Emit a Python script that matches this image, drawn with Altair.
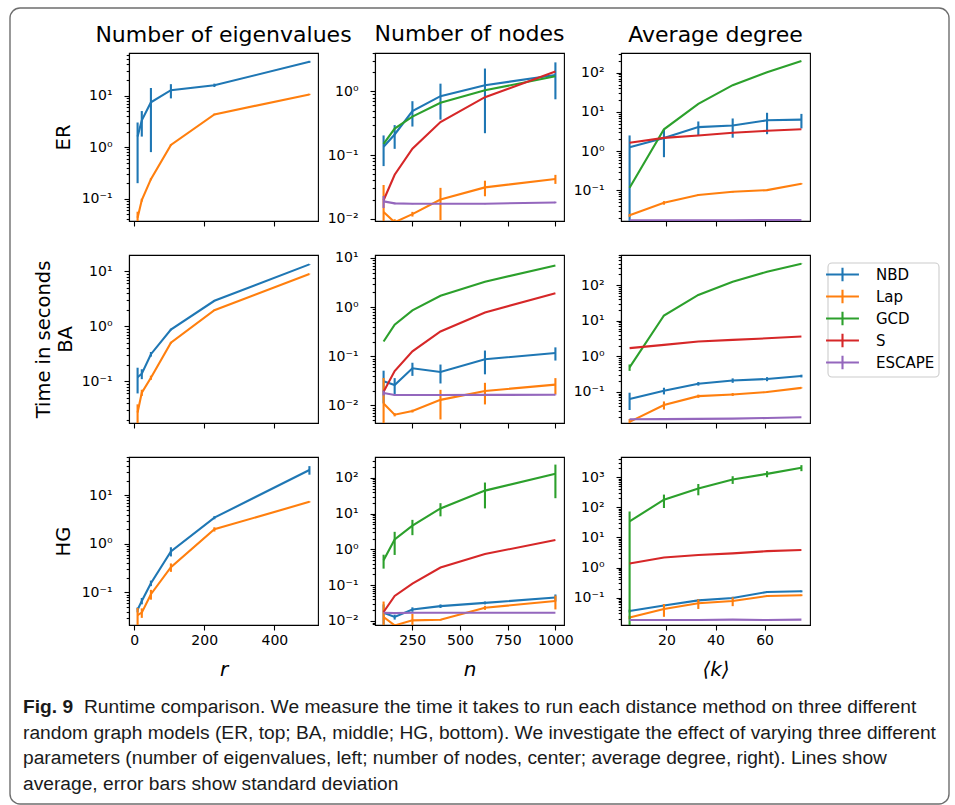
import altair as alt
import pandas as pd

METHODS = ["NBD", "Lap", "GCD", "S", "ESCAPE"]
PALETTE = ["#1f77b4", "#ff7f0e", "#2ca02c", "#d62728", "#9467bd"]

R_VALUES = [10, 22, 48, 105, 229, 500]
N_VALUES = [100, 158, 251, 398, 631, 1000]
K_VALUES = [5, 19, 33, 47, 61, 75]
X_VALUES = [R_VALUES, N_VALUES, K_VALUES]

COLUMN_TITLES = ["Number of eigenvalues", "Number of nodes", "Average degree"]
X_TITLES = ["r", "n", "⟨k⟩"]
X_TICKS = [[0, 200, 400], [250, 500, 750, 1000], [20, 40, 60]]
X_DOMAINS = [[-14.5, 524.5], [55, 1045], [1.5, 78.5]]
ROW_TITLES = ["ER", ["Time in seconds", "BA"], "HG"]

# mean runtime (seconds) and standard deviation, one dict per panel
ER_R_MEAN = {"NBD": [1.6, 3.3, 7.4, 12.7, 15.8, 45.0],
             "Lap": [0.043, 0.094, 0.24, 1.1, 4.3, 10.5]}
ER_R_STD = {"NBD": [1.4, 1.7, 6.6, 3.9, 1.2, 2.0],
            "Lap": [0.013, 0.006, 0.012, 0.04, 0.15, 0.3]}

ER_N_MEAN = {"NBD": [0.135, 0.21, 0.49, 0.84, 1.25, 1.8],
             "Lap": [0.0127, 0.0088, 0.0118, 0.02, 0.031, 0.042],
             "GCD": [0.15, 0.26, 0.40, 0.66, 1.04, 1.72],
             "S": [0.0195, 0.049, 0.126, 0.33, 0.81, 2.05],
             "ESCAPE": [0.0187, 0.0174, 0.0172, 0.0172, 0.0172, 0.018]}
ER_N_STD = {"NBD": [0.068, 0.085, 0.21, 0.48, 1.03, 1.05],
            "Lap": [0.021, 0.001, 0.001, 0.0105, 0.0085, 0.0068],
            "ESCAPE": [0.004, 0.0005, 0.0003, 0.0003, 0.0003, 0.0005]}

ER_K_MEAN = {"NBD": [1.26, 2.15, 4.1, 4.5, 6.1, 6.35],
             "Lap": [0.023, 0.048, 0.076, 0.092, 0.101, 0.147],
             "GCD": [0.116, 3.6, 16, 48, 103, 198],
             "S": [1.63, 2.18, 2.5, 2.93, 3.3, 3.6],
             "ESCAPE": [0.0172, 0.0172, 0.0173, 0.0173, 0.0174, 0.0175]}
ER_K_STD = {"NBD": [1.25, 1.45, 1.6, 2.3, 3.4, 2.55],
            "Lap": [0.002, 0.005, 0.004, 0.004, 0.003, 0.005]}

BA_R_MEAN = {"NBD": [0.118, 0.137, 0.31, 0.87, 2.9, 13.3],
             "Lap": [0.027, 0.062, 0.116, 0.50, 1.95, 8.9]}
BA_R_STD = {"NBD": [0.058, 0.028, 0.03, 0.03, 0.05, 0.2],
            "Lap": [0.011, 0.008, 0.01, 0.02, 0.05, 0.1]}

BA_N_MEAN = {"NBD": [0.031, 0.026, 0.057, 0.048, 0.087, 0.117],
             "Lap": [0.011, 0.0065, 0.0077, 0.013, 0.0197, 0.0265],
             "GCD": [0.20, 0.44, 0.86, 1.7, 3.3, 7.0],
             "S": [0.019, 0.05, 0.126, 0.32, 0.78, 1.92],
             "ESCAPE": [0.018, 0.0163, 0.0163, 0.0163, 0.0164, 0.0165]}
BA_N_STD = {"NBD": [0.02, 0.01, 0.017, 0.02, 0.044, 0.035],
            "Lap": [0.025, 0.0005, 0.0005, 0.0078, 0.0092, 0.0095],
            "ESCAPE": [0.002, 0.0003, 0.0003, 0.0003, 0.0003, 0.0003]}

BA_K_MEAN = {"NBD": [0.063, 0.108, 0.17, 0.21, 0.23, 0.28],
             "Lap": [0.0144, 0.043, 0.076, 0.085, 0.099, 0.13],
             "GCD": [0.49, 14, 53, 124, 236, 400],
             "S": [1.7, 2.1, 2.6, 2.9, 3.2, 3.6],
             "ESCAPE": [0.017, 0.0172, 0.0175, 0.0178, 0.0185, 0.0195]}
BA_K_STD = {"NBD": [0.032, 0.023, 0.02, 0.03, 0.03, 0.025],
            "Lap": [0.003, 0.011, 0.008, 0.008, 0.005, 0.004],
            "GCD": [0.1, 0.5, 1, 2, 3, 5]}

HG_R_MEAN = {"NBD": [0.044, 0.067, 0.155, 0.70, 3.45, 33],
             "Lap": [0.034, 0.0385, 0.092, 0.33, 1.99, 7.3]}
HG_R_STD = {"NBD": [0.005, 0.01, 0.02, 0.15, 0.25, 6.6],
            "Lap": [0.014, 0.0085, 0.021, 0.065, 0.2, 0.2]}

HG_N_MEAN = {"NBD": [0.017, 0.0129, 0.021, 0.026, 0.032, 0.045],
             "Lap": [0.0129, 0.0075, 0.0104, 0.0108, 0.0234, 0.036],
             "GCD": [0.5, 1.9, 4.6, 14, 44, 131],
             "S": [0.0178, 0.05, 0.111, 0.31, 0.74, 1.84],
             "ESCAPE": [0.017, 0.0165, 0.017, 0.017, 0.017, 0.017]}
HG_N_STD = {"NBD": [0.012, 0.002, 0.003, 0.003, 0.003, 0.01],
            "Lap": [0.022, 0.0005, 0.0054, 0.0005, 0.003, 0.015],
            "GCD": [0.21, 1.2, 2.1, 5.6, 30, 104]}

HG_K_MEAN = {"NBD": [0.036, 0.055, 0.081, 0.097, 0.154, 0.162],
             "Lap": [0.022, 0.042, 0.065, 0.077, 0.113, 0.12],
             "GCD": [34, 180, 424, 840, 1295, 2055],
             "S": [1.36, 2.16, 2.6, 2.94, 3.5, 3.8],
             "ESCAPE": [0.018, 0.018, 0.018, 0.0185, 0.018, 0.0185]}
HG_K_STD = {"NBD": [0.004, 0.006, 0.008, 0.01, 0.01, 0.012],
            "Lap": [0.003, 0.019, 0.023, 0.025, 0.008, 0.008],
            "GCD": [39, 85, 173, 240, 295, 465]}

# visible y range of each panel (log axes)
Y_DOMAINS = [[[0.037, 66.7], [0.0092, 4.0], [0.0165, 318]],
             [[0.0174, 19.7], [0.0044, 11.5], [0.0134, 700]],
             [[0.0214, 61], [0.0077, 383], [0.0123, 4700]]]

PANEL_DATA = [[(ER_R_MEAN, ER_R_STD), (ER_N_MEAN, ER_N_STD), (ER_K_MEAN, ER_K_STD)],
              [(BA_R_MEAN, BA_R_STD), (BA_N_MEAN, BA_N_STD), (BA_K_MEAN, BA_K_STD)],
              [(HG_R_MEAN, HG_R_STD), (HG_N_MEAN, HG_N_STD), (HG_K_MEAN, HG_K_STD)]]

CAPTION_LEAD = "Fig. 9"
CAPTION_LINE1 = ("Runtime comparison. We measure the time it takes to run each "
                 "distance method on three different")
CAPTION_REST = [
    "random graph models (ER, top; BA, middle; HG, bottom). We investigate the "
    "effect of varying three different",
    "parameters (number of eigenvalues, left; number of nodes, center; average "
    "degree, right). Lines show",
    "average, error bars show standard deviation",
]

PANEL_W, PANEL_H = 189, 168
FONT = "DejaVu Sans"
CAPTION_FONT = "Liberation Sans, Arial, sans-serif"
CAPTION_SIZE = 19.2

SUPERSCRIPTS = "['⁻⁴','⁻³','⁻²','⁻¹','⁰','¹','²','³','⁴']"
DECADE_LABEL = "'10' + " + SUPERSCRIPTS + "[round(log(datum.value) / LN10) + 4]"


def log_ticks(lo, hi):
    majors, minors = [], []
    for e in range(-4, 5):
        for k in range(1, 10):
            v = round(k * 10.0 ** e, 8)
            if lo <= v <= hi:
                (majors if k == 1 else minors).append(v)
    return majors, minors


LEGEND = alt.Legend(
    title=None, orient="none", legendX=207, legendY=5,
    symbolType="M-2.35,0H2.35M0,-0.95V0.95", symbolSize=196,
    symbolStrokeWidth=2.1, labelFontSize=15, labelFont=FONT,
    labelColor="black", labelOffset=25, rowPadding=-1, padding=6,
    strokeColor="transparent", fillColor="transparent",
)


def one_row():
    return pd.DataFrame({"a": [0]})


def legend_box():
    """Rounded frame drawn behind the legend entries."""
    return alt.Chart(one_row()).mark_rect(
        fill="white", fillOpacity=0.8, stroke="#cccccc", strokeWidth=1.1,
        cornerRadius=4, clip=False,
    ).encode(x=alt.value(207), x2=alt.value(318),
             y=alt.value(8), y2=alt.value(122))


def decorations():
    """Figure frame and caption, positioned relative to the bottom-left panel."""
    frame = alt.Chart(one_row()).mark_rect(
        fillOpacity=0, stroke="#6e6e6e", strokeWidth=1.4, cornerRadius=10,
        clip=False,
    ).encode(x=alt.value(-119), x2=alt.value(820),
             y=alt.value(-449), y2=alt.value(347))
    lead = alt.Chart(one_row()).mark_text(
        text=CAPTION_LEAD, align="left", baseline="alphabetic",
        font=CAPTION_FONT, fontSize=CAPTION_SIZE, fontWeight="bold",
        color="#1a1a1a",
    ).encode(x=alt.value(-106), y=alt.value(256))
    first = alt.Chart(one_row()).mark_text(
        text=CAPTION_LINE1, align="left", baseline="alphabetic",
        font=CAPTION_FONT, fontSize=CAPTION_SIZE, color="#1a1a1a",
    ).encode(x=alt.value(-45), y=alt.value(256))
    rest = alt.Chart(one_row()).mark_text(
        text=CAPTION_REST, align="left", baseline="alphabetic", lineHeight=25.5,
        font=CAPTION_FONT, fontSize=CAPTION_SIZE, color="#1a1a1a",
    ).encode(x=alt.value(-106), y=alt.value(281.5))
    return [frame, lead, first, rest]


def build_panel(row, col):
    means, stds = PANEL_DATA[row][col]
    ydom = Y_DOMAINS[row][col]
    xs = X_VALUES[col]
    bottom = row == 2

    xscale = alt.Scale(domain=X_DOMAINS[col], nice=False, zero=False)
    yscale = alt.Scale(type="log", domain=ydom, nice=False)

    x_kwargs = dict(values=X_TICKS[col], labels=bottom, format="d", tickSize=5,
                    labelPadding=3, labelFontSize=14, labelFlush=False)
    if bottom:
        x_kwargs.update(title=X_TITLES[col], titleFontSize=20,
                        titleFontStyle="italic", titleFontWeight="normal",
                        titleY=50, titleBaseline="alphabetic")
    else:
        x_kwargs.update(title=None)
    x_axis = alt.Axis(**x_kwargs)

    majors, minors = log_ticks(*ydom)
    y_kwargs = dict(values=majors, labelExpr=DECADE_LABEL, tickSize=5,
                    labelPadding=12, labelFontSize=14, orient="left",
                    labelFlush=False)
    if col == 0:
        two_line = isinstance(ROW_TITLES[row], list)
        y_kwargs.update(title=ROW_TITLES[row], titleFontSize=19.5,
                        titleFontWeight="normal", titleAngle=270,
                        titleAlign="center", titleBaseline="alphabetic",
                        titleX=-80 if two_line else -60, titleY=PANEL_H / 2,
                        titleLineHeight=22)
    else:
        y_kwargs.update(title=None)
    y_major = alt.Axis(**y_kwargs)
    y_minor = alt.Axis(values=minors, labels=False, tickSize=2.8, domain=False,
                       title=None, orient="left")

    show_legend = (row == 1 and col == 2)
    X = alt.X("x:Q", scale=xscale, axis=x_axis)
    layers = []
    first = True
    for m in METHODS:
        if m not in means:
            continue
        mu = means[m]
        df = pd.DataFrame({"x": xs, "mean": mu, "method": m})
        sd = stds.get(m)
        if sd:
            df["lo"] = [max(a - b, 1e-7) for a, b in zip(mu, sd)]
            df["hi"] = [a + b for a, b in zip(mu, sd)]
        color = alt.Color(
            "method:N",
            scale=alt.Scale(domain=METHODS, range=PALETTE),
            legend=LEGEND if (show_legend and first) else None,
        )
        base = alt.Chart(df)
        layers.append(base.mark_line(strokeWidth=2.1, clip=True).encode(
            x=X, y=alt.Y("mean:Q", scale=yscale,
                         axis=y_major if first else None),
            color=color))
        if first:
            layers.append(base.mark_line(opacity=0).encode(
                x=X, y=alt.Y("mean:Q", scale=yscale, axis=y_minor)))
        if sd:
            layers.append(base.mark_rule(strokeWidth=2.1, clip=True).encode(
                x=X, y=alt.Y("lo:Q", scale=yscale, axis=None), y2="hi:Q",
                color=alt.Color("method:N",
                                scale=alt.Scale(domain=METHODS, range=PALETTE),
                                legend=None)))
        first = False

    if row == 2 and col == 0:
        layers = decorations() + layers
    if show_legend:
        layers = layers + [legend_box()]

    props = dict(width=PANEL_W, height=PANEL_H)
    if row == 0:
        props["title"] = alt.TitleParams(
            COLUMN_TITLES[col], fontSize=22, fontWeight="normal", font=FONT,
            color="black", anchor="middle", frame="group", offset=-11,
            baseline="alphabetic")
    return alt.layer(*layers).resolve_axis(y="independent").properties(**props)


panels = [build_panel(r, c) for r in range(3) for c in range(3)]

chart = alt.concat(
    *panels, columns=3, spacing={"row": 34, "column": 57}, bounds="flush"
).resolve_legend(
    color="independent"
).properties(
    padding={"left": 8, "top": 6, "right": 2, "bottom": 1}
).configure(
    font=FONT
).configure_view(
    stroke="black", strokeWidth=1.1
).configure_axis(
    domainColor="black", tickColor="black", labelColor="black",
    titleColor="black", domainWidth=1.1, tickWidth=1.1, grid=False,
    labelFont=FONT, titleFont=FONT
)

chart.save("out.html", embed_options={"renderer": "svg", "actions": False})
